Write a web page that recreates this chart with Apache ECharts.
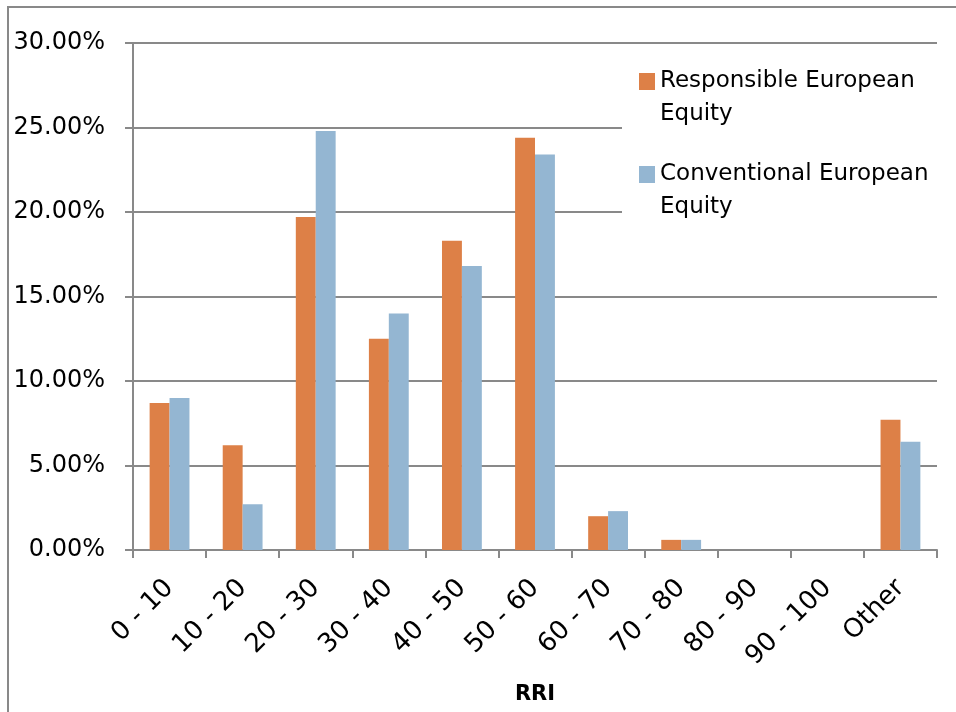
<!DOCTYPE html>
<html>
<head>
<meta charset="utf-8">
<script src="https://cdn.jsdelivr.net/npm/echarts@6/dist/echarts.min.js"></script>
<style>
  html, body { margin: 0; padding: 0; background: #ffffff; overflow: hidden; }
  #chart { width: 956px; height: 712px; }
</style>
</head>
<body>
<div id="chart"></div>
<script>
// RRI buckets on the category axis
const categories = ['0 - 10', '10 - 20', '20 - 30', '30 - 40', '40 - 50', '50 - 60',
                    '60 - 70', '70 - 80', '80 - 90', '90 - 100', 'Other'];
// Share of holdings per bucket, in percent
const responsibleValues = [8.7, 6.2, 19.7, 12.5, 18.3, 24.4, 2.0, 0.6, 0, 0, 7.7];
const conventionalValues = [9.0, 2.7, 24.8, 14.0, 16.8, 23.4, 2.3, 0.6, 0, 0, 6.4];
const seriesNames = ['Responsible European\nEquity', 'Conventional European\nEquity'];
const yTicks = { min: 0, max: 30, interval: 5 };

const gridColor = '#898989';
const font = 'DejaVu Sans';

const chart = echarts.init(document.getElementById('chart'), null, { renderer: 'canvas' });

chart.setOption({
  backgroundColor: '#ffffff',
  animation: false,
  graphic: [{
    type: 'rect',
    shape: { x: 8, y: 7, width: 2000, height: 2000 },
    style: { fill: 'none', stroke: gridColor, lineWidth: 2 },
    z: -1
  }],
  grid: { left: 133, right: 19, top: 43, bottom: 162, containLabel: false, outerBoundsMode: 'none' },
  legend: {
    orient: 'vertical',
    left: 622,
    top: 50,
    padding: [15, 14, 60, 17],
    backgroundColor: '#ffffff',
    itemWidth: 16,
    itemHeight: 50,
    itemGap: 27,
    icon: 'path://M0,0H16V17H0Z M0,50',
    textStyle: { fontFamily: font, fontSize: 23, color: '#000000', lineHeight: 33 },
    data: seriesNames
  },
  xAxis: {
    type: 'category',
    data: categories,
    name: 'RRI',
    nameLocation: 'middle',
    nameGap: 134,
    nameTextStyle: { fontFamily: font, fontSize: 21, fontWeight: 'bold', color: '#000000' },
    axisLine: { lineStyle: { color: gridColor, width: 2 } },
    axisTick: { show: true, length: 8, lineStyle: { color: gridColor, width: 2 } },
    axisLabel: { rotate: 45, margin: 34, fontFamily: font, fontSize: 26, color: '#000000', interval: 0 },
    splitLine: { show: false }
  },
  yAxis: {
    type: 'value',
    min: yTicks.min,
    max: yTicks.max,
    interval: yTicks.interval,
    axisLine: { show: true, lineStyle: { color: gridColor, width: 2 } },
    axisTick: { show: true, length: 8, lineStyle: { color: gridColor, width: 2 } },
    axisLabel: {
      margin: 28,
      fontFamily: font, fontSize: 24, color: '#000000',
      formatter: v => v.toFixed(2) + '%'
    },
    splitLine: { show: true, lineStyle: { color: gridColor, width: 2 } }
  },
  series: [
    {
      name: seriesNames[0],
      type: 'bar',
      data: responsibleValues,
      barGap: '0%',
      barCategoryGap: '45.5%',
      itemStyle: { color: '#DD8047' }
    },
    {
      name: seriesNames[1],
      type: 'bar',
      data: conventionalValues,
      itemStyle: { color: '#94B6D2' }
    }
  ]
});
</script>
</body>
</html>
